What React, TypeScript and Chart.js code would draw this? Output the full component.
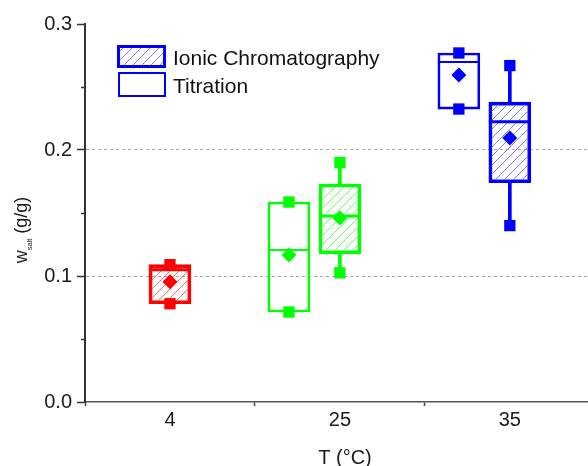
import React, { useEffect, useRef } from 'react';
import { Chart, registerables } from 'chart.js';

Chart.register(...registerables);

// Temperature categories (°C)
const categories = ['4', '25', '35'];

// Ionic Chromatography statistics per category
const icCategory = ['4', '25', '35'];
const icMin = [0.078, 0.1025, 0.140];
const icQ1 = [0.078, 0.1175, 0.174];
const icMedian = [0.105, 0.1476, 0.2225];
const icMean = [0.0955, 0.146, 0.2095];
const icQ3 = [0.109, 0.173, 0.238];
const icMax = [0.109, 0.190, 0.267];
const icColors = ['#ff0000', '#00ff00', '#0000ff'];
const icHatch = ['rgba(255,90,90,0.9)', 'rgba(90,255,90,0.9)', 'rgba(110,110,255,0.9)'];

// Titration statistics per category
const tiCategory = ['25', '35'];
const tiMin = [0.0714, 0.2325];
const tiQ1 = [0.0714, 0.2325];
const tiMedian = [0.1206, 0.2698];
const tiMean = [0.1167, 0.2595];
const tiQ3 = [0.1587, 0.277];
const tiMax = [0.1587, 0.277];
const tiColors = ['#00ff00', '#0000ff'];

// Axis ticks
const yMajorTicks = [0, 0.1, 0.2, 0.3];
const yMinorTicks = [0.05, 0.15, 0.25];
const yGridValues = [0.1, 0.2];
const xBoundaryTicks = [0.5, 1.5, 2.5];

const TI_OFFSET = 0.3;
const X_MIN = 0.5;
const X_MAX = 3.46;
const FONT = "'Liberation Sans', Arial, sans-serif";

function makeHatch(color: string) {
  const s = 9;
  const c = document.createElement('canvas');
  c.width = s;
  c.height = s;
  const g = c.getContext('2d')!;
  g.strokeStyle = color;
  g.lineWidth = 1;
  g.beginPath();
  g.moveTo(0, s);
  g.lineTo(s, 0);
  g.moveTo(-1, 1);
  g.lineTo(1, -1);
  g.moveTo(s - 1, s + 1);
  g.lineTo(s + 1, s - 1);
  g.stroke();
  return g.createPattern(c, 'repeat')!;
}

export default function App() {
  const ref = useRef<HTMLCanvasElement>(null);

  useEffect(() => {
    const canvas = ref.current!;
    const icX = icCategory.map((c) => categories.indexOf(c) + 1);
    const tiX = tiCategory.map((c) => categories.indexOf(c) + 1 - TI_OFFSET);
    const patterns = icHatch.map((c) => makeHatch(c));
    const legendPattern = makeHatch(icHatch[2]);

    const extras = {
      id: 'extras',
      afterDraw(chart: any) {
        const ctx = chart.ctx;
        const ys = chart.scales.y;
        const area = chart.chartArea;
        ctx.save();
        // minor y ticks
        ctx.strokeStyle = '#333';
        ctx.lineWidth = 1.5;
        yMinorTicks.forEach((v) => {
          const y = Math.round(ys.getPixelForValue(v)) + 0.5;
          ctx.beginPath();
          ctx.moveTo(area.left - 4, y);
          ctx.lineTo(area.left, y);
          ctx.stroke();
        });
        // y title
        ctx.fillStyle = '#1a1a1a';
        ctx.translate(27, 230);
        ctx.rotate(-Math.PI / 2);
        ctx.textBaseline = 'alphabetic';
        ctx.textAlign = 'left';
        const big = `18px ${FONT}`;
        const small = `7.5px ${FONT}`;
        ctx.font = big;
        const w1 = ctx.measureText('w').width;
        const w3 = ctx.measureText(' (g/g)').width;
        ctx.font = small;
        const w2 = ctx.measureText('salt').width;
        let x0 = -(w1 + w2 + w3) / 2;
        ctx.font = big;
        ctx.fillText('w', x0, 0);
        x0 += w1;
        ctx.font = small;
        ctx.fillText('salt', x0, 5);
        x0 += w2;
        ctx.font = big;
        ctx.fillText(' (g/g)', x0, 0);
        ctx.setTransform(1, 0, 0, 1, 0, 0);
        // x title
        ctx.font = `20px ${FONT}`;
        ctx.textAlign = 'center';
        ctx.fillText('T (°C)', 345, 464);
        // legend
        ctx.fillStyle = legendPattern;
        ctx.fillRect(118.5, 46.5, 46, 20);
        ctx.strokeStyle = '#0000ff';
        ctx.lineWidth = 3;
        ctx.strokeRect(118.5, 46.5, 46, 20);
        ctx.lineWidth = 2;
        ctx.strokeRect(119, 73, 46, 23);
        ctx.fillStyle = '#111';
        ctx.textAlign = 'left';
        ctx.font = `21px ${FONT}`;
        ctx.fillText('Ionic Chromatography', 173, 65);
        ctx.fillText('Titration', 173, 93);
        ctx.restore();
      },
    };

    const chart = new Chart(canvas, {
      type: 'bar',
      data: {
        datasets: [
          {
            type: 'bar',
            label: 'IC whisker high',
            data: icX.map((x, i) => ({ x, y: [icQ3[i], icMax[i]] })) as any,
            backgroundColor: icColors,
            borderWidth: 0,
            barThickness: 3,
            grouped: false,
            order: 10,
          },
          {
            type: 'bar',
            label: 'IC whisker low',
            data: icX.map((x, i) => ({ x, y: [icMin[i], icQ1[i]] })) as any,
            backgroundColor: icColors,
            borderWidth: 0,
            barThickness: 3,
            grouped: false,
            order: 10,
          },
          {
            type: 'bar',
            label: 'Ionic Chromatography',
            data: icX.map((x, i) => ({ x, y: [icQ1[i], icQ3[i]] })) as any,
            backgroundColor: patterns as any,
            borderColor: icColors,
            borderWidth: 3,
            borderSkipped: false,
            barThickness: 42,
            grouped: false,
            order: 5,
          },
          {
            type: 'bar',
            label: 'Titration',
            data: tiX.map((x, i) => ({ x, y: [tiQ1[i], tiQ3[i]] })) as any,
            backgroundColor: 'rgba(255,255,255,0)',
            borderColor: tiColors,
            borderWidth: 2,
            borderSkipped: false,
            barThickness: 42,
            grouped: false,
            order: 5,
          },
          {
            type: 'bar',
            label: 'Titration whisker high',
            data: tiX.map((x, i) => ({ x, y: [tiQ3[i], tiMax[i]] })) as any,
            backgroundColor: tiColors,
            borderWidth: 0,
            barThickness: 2,
            grouped: false,
            order: 10,
          },
          {
            type: 'bar',
            label: 'Titration whisker low',
            data: tiX.map((x, i) => ({ x, y: [tiMin[i], tiQ1[i]] })) as any,
            backgroundColor: tiColors,
            borderWidth: 0,
            barThickness: 2,
            grouped: false,
            order: 10,
          },
          {
            type: 'scatter',
            label: 'IC median',
            data: icX.map((x, i) => ({ x, y: icMedian[i] })),
            pointStyle: 'line',
            pointRadius: 21,
            pointBorderWidth: 3,
            pointBorderColor: icColors,
            order: 3,
          } as any,
          {
            type: 'scatter',
            label: 'Titration median',
            data: tiX.map((x, i) => ({ x, y: tiMedian[i] })),
            pointStyle: 'line',
            pointRadius: 21,
            pointBorderWidth: 2,
            pointBorderColor: tiColors,
            order: 3,
          } as any,
          {
            type: 'scatter',
            label: 'IC extremes',
            data: [
              ...icX.map((x, i) => ({ x, y: icMax[i] })),
              ...icX.map((x, i) => ({ x, y: icMin[i] })),
            ],
            pointStyle: 'rect',
            pointRadius: 8,
            pointBorderWidth: 0,
            pointBackgroundColor: [...icColors, ...icColors],
            order: 2,
          } as any,
          {
            type: 'scatter',
            label: 'Titration extremes',
            data: [
              ...tiX.map((x, i) => ({ x, y: tiMax[i] })),
              ...tiX.map((x, i) => ({ x, y: tiMin[i] })),
            ],
            pointStyle: 'rect',
            pointRadius: 8,
            pointBorderWidth: 0,
            pointBackgroundColor: [...tiColors, ...tiColors],
            order: 2,
          } as any,
          {
            type: 'scatter',
            label: 'IC mean',
            data: icX.map((x, i) => ({ x, y: icMean[i] })),
            pointStyle: 'rectRot',
            pointRadius: 7.5,
            pointBorderWidth: 0,
            pointBackgroundColor: icColors,
            order: 1,
          } as any,
          {
            type: 'scatter',
            label: 'Titration mean',
            data: tiX.map((x, i) => ({ x, y: tiMean[i] })),
            pointStyle: 'rectRot',
            pointRadius: 7.5,
            pointBorderWidth: 0,
            pointBackgroundColor: tiColors,
            order: 1,
          } as any,
        ],
      },
      options: {
        responsive: false,
        animation: false,
        events: [],
        devicePixelRatio: 1,
        layout: { autoPadding: false, padding: { top: 24, right: 0, left: 0, bottom: 0 } },
        plugins: { legend: { display: false }, tooltip: { enabled: false } },
        scales: {
          x: {
            type: 'linear',
            min: X_MIN,
            max: X_MAX,
            offset: false,
            afterFit: (s: any) => {
              s.height = 64;
              s.paddingLeft = 0;
              s.paddingRight = 0;
            },
            afterBuildTicks: (s: any) => {
              const vals = [...xBoundaryTicks, ...categories.map((_, i) => i + 1)].sort((a, b) => a - b);
              s.ticks = vals.map((v) => ({ value: v }));
            },
            ticks: {
              autoSkip: false,
              maxRotation: 0,
              padding: 2,
              color: '#1a1a1a',
              font: { family: FONT, size: 20 },
              callback: (v: any) => {
                const idx = Number(v) - 1;
                return Number.isInteger(Number(v)) && categories[idx] !== undefined ? categories[idx] : '';
              },
            },
            grid: {
              offset: false,
              drawOnChartArea: false,
              drawTicks: true,
              tickLength: 4,
              tickWidth: 1.5,
              tickColor: (c: any) => (c.tick && Number.isInteger(c.tick.value) ? 'rgba(0,0,0,0)' : '#444'),
            },
            border: { display: true, color: '#555', width: 1.5 },
          },
          y: {
            type: 'linear',
            min: 0,
            max: 0.3,
            afterFit: (s: any) => {
              s.width = 85;
            },
            afterBuildTicks: (s: any) => {
              s.ticks = yMajorTicks.map((v) => ({ value: v }));
            },
            ticks: {
              padding: 5,
              color: '#1a1a1a',
              font: { family: FONT, size: 20 },
              callback: (v: any) => Number(v).toFixed(1),
            },
            grid: {
              offset: false,
              drawOnChartArea: true,
              tickLength: 8,
              tickWidth: 1.5,
              tickColor: '#333',
              lineWidth: 1,
              color: (c: any) =>
                c.tick && yGridValues.some((g) => Math.abs(g - c.tick.value) < 1e-9) ? '#a8a8a8' : 'rgba(0,0,0,0)',
            },
            border: { display: true, color: '#333', width: 2, dash: [3, 3] },
          },
        },
      } as any,
      plugins: [extras],
    });
    return () => chart.destroy();
  }, []);

  return (
    <div style={{ position: 'fixed', left: 0, top: 0, width: 588, height: 466, background: '#fff' }}>
      <canvas ref={ref} width={588} height={466} style={{ display: 'block' }} />
    </div>
  );
}
